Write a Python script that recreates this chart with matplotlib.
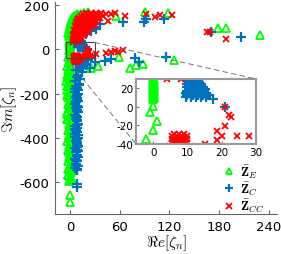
import numpy as np
import matplotlib.pyplot as plt
from matplotlib.patches import Rectangle, ConnectionPatch

plt.rcParams.update({'font.size': 9.5,
                     'font.family': 'DejaVu Sans',
                     'mathtext.fontset': 'cm'})
plt.rc('axes', unicode_minus=False)

# Z_E  (green triangles)
ze_x = [0, 0,
        -1, 2, 0, -2, 1, 3, -1, 0, 2, -2,
        1, -1, 3, 0, -2, 2, -1, 1, -3, 0,
        2, -1, 1, -2, 0, 3, -1, 2, -2, 0,
        1, -3, 2, -1, 0, -2, 1, 3, -1, -3,
        0, -4, 2, -3, -1, -5, 1, -2, -4, 0,
        -2, 1, -3, 0, -1, 2, -2, 0, 1, -1,
        1, -2, 0, 2, -1, 1, -3, 0, 2, -1,
        -2, 1, -1, 2, 0, -3, 1, -2, 0, 2,
        0, 0, 0.3, 0, 0.3, 0, 0.3, 0, 0.3, 0, 0.3, 0, 0.3, 0, 0.3, 0, 0.3, 0, 0.3, 0, 0.3, 0, 0.3, 0,
        -1, 0, 1, -1, 0, -2, 1, -1, 0, 2, 0, 3, 1, 5, 3, 7, 5, 10, 8, 13, 17, 22,
        56, 91, 118, 179, 188, 230, 88, 126, 25, 34, 59, 72, 80]
ze_y = [-688, -655,
        -595, -585, -575, -565, -555, -545, -535, -525, -515, -505,
        -495, -485, -475, -465, -455, -445, -435, -425, -415, -405,
        -395, -385, -375, -365, -355, -345, -335, -325, -315, -305,
        -295, -285, -275, -265, -255, -245, -235, -225, -215, -205,
        -195, -185, -175, -165, -155, -145, -135, -125, -115, -105,
        -95, -85, -75, -65, -55, -45, -35, -25, -15, -5,
        -590, -540, -490, -440, -390, -340, -290, -240, -190, -140,
        -565, -515, -465, -415, -365, -315, -265, -215, -165, -115,
        0.7, 9, 10, 11, 12, 13, 14, 15, 16, 17, 18, 19, 20, 21, 22, 23, 24, 25, 26, 27, 28, 29, 30, 31,
        35, 42, 50, 58, 66, 74, 82, 90, 98, 106, 114, 120, 126, 132, 138, 144, 148, 152, 156, 160, 163, 165,
        150, 166, 162, 94, 94, 63, -68, -50, -86, -76, -36, -86, -72]

# Z_C  (blue plus)
zc_x = [8, 8,
        8, 6, 10, 7, 9, 6, 10, 8, 7, 9,
        6, 10, 8, 7, 9, 6, 10, 8, 7, 9,
        6, 10, 8, 7, 9, 6, 10, 8, 7, 9,
        6, 10, 8, 7, 9, 6, 10, 8, 7, 11,
        6, 12, 8, 10, 14, 7, 12, 16, 9, 13,
        9, 7, 10, 8, 6, 9, 7, 10, 8, 6,
        7, 9, 8, 10, 6, 8, 9, 7, 10, 11,
        18, 20, 24, 16, 22,
        9.5, 11, 12.5, 14, 15.5,
        10, 11.5, 13, 14.5, 16,
        9.5, 11, 12.5, 14, 15.5,
        10, 11.5, 13, 14.5,
        10.5, 12, 13.5, 15,
        10, 11.5, 13, 14.5,
        10.5, 12, 13.5,
        10, 11.5, 13, 14,
        10.5, 12, 13.5,
        10, 11.5, 13,
        10.5, 12, 13.5,
        11, 12.5, 11, 13,
        17.4, 21,
        16, 20, 26, 32, 24, 30, 36, 64, 90, 92, 114, 170, 206,
        30, 42, 50, 78, 84, 116]
zc_y = [-621, -607,
        -545, -535, -525, -515, -505, -495, -485, -475, -465, -455,
        -445, -435, -425, -415, -405, -395, -385, -375, -365, -355,
        -345, -335, -325, -315, -305, -295, -285, -275, -265, -255,
        -245, -235, -225, -215, -205, -195, -185, -175, -165, -155,
        -145, -135, -125, -115, -105, -95, -85, -75, -65, -55,
        -540, -500, -460, -420, -380, -340, -300, -260, -220, -180,
        -520, -480, -440, -400, -360, -320, -280, -240, -200, -160,
        -45, -70, -85, -60, -50,
        11, 11, 11, 11, 11,
        13, 13, 13, 13, 13,
        15, 15, 15, 15, 15,
        17, 17, 17, 17,
        19, 19, 19, 19,
        21, 21, 21, 21,
        23, 23, 23,
        25, 25, 25, 25,
        27, 27, 27,
        29, 29, 29,
        31, 31, 31,
        34, 34, 38, 38,
        8, 0,
        58, 70, 81, 90, 95, 100, 112, 121, 121, 135, 135, 76, 54,
        -58, -54, -45, -40, -58, -36]

# Z_CC  (red x)
zcc_x = [4, 8,
         5, 9, 12,
         4, 8, 12,
         5, 9, 13,
         4, 8, 12, 16,
         5, 9, 13, 17,
         6, 10, 14, 18, 22,
         5, 9, 13, 17, 21,
         7, 11, 15, 19, 24,
         6, 10, 14, 18, 22, 27,
         8, 12, 16, 20, 25, 30,
         7, 11, 15, 19, 24, 29,
         9, 13, 17, 21, 26, 32, 46,
         10, 14, 18, 23, 28, 34,
         11, 15, 20, 25, 30, 36,
         13, 17, 22, 27, 33, 40, 66,
         16, 21, 26, 32, 38, 44, 50,
         20, 25, 31, 37, 55,
         6, 7.5, 9,
         5.5, 7, 8.5, 10,
         6, 7.5, 9,
         5.5, 7, 8.5, 10,
         6, 7.5, 9,
         5.5, 7, 8.5, 10,
         5, 7, 9, 11,
         6, 8, 10, 12,
         5, 7, 9, 11,
         6, 8, 10,
         7, 9,
         21, 22.6, 21, 18.6, 20, 24.4, 18.5, 15, 22, 28, 32, 44, 50, 54, 58, 64,
         92, 103, 109, 123, 166, 169, 188]
zcc_y = [30, 30,
         38, 38, 38,
         46, 46, 46,
         54, 54, 54,
         62, 62, 62, 62,
         70, 70, 70, 70,
         78, 78, 78, 78, 78,
         86, 86, 86, 86, 86,
         94, 94, 94, 94, 94,
         102, 102, 102, 102, 102, 102,
         110, 110, 110, 110, 110, 110,
         118, 118, 118, 118, 118, 118,
         126, 126, 126, 126, 126, 126, 126,
         134, 134, 134, 134, 134, 134,
         142, 142, 142, 142, 142, 142,
         150, 150, 150, 150, 150, 150, 150,
         157, 157, 157, 157, 157, 157, 157,
         163, 163, 163, 163, 163,
         -29, -29, -29,
         -31, -31, -31, -31,
         -33, -33, -33,
         -35, -35, -35, -35,
         -37, -37, -37,
         -39, -39, -39, -39,
         -42, -42, -42, -42,
         -46, -46, -46, -46,
         -50, -50, -50, -50,
         -54, -54, -54,
         -58, -58,
         0, -11, -21, -26, -31, -31, -36, -40, -9, -31, -22, -18, -13, -9, -13, -4,
         157, 144, 153, 153, 76, 76, 45]

green = '#00FF00'
blue = '#0072BD'
red = '#FF0000'

fig = plt.figure(figsize=(2.81, 2.55), dpi=100)
ax = fig.add_axes([55/281, 40/255, 222/281, 212/255])


def draw(a):
    a.plot(ze_x, ze_y, ls='none', marker='^', mfc='none', mec=green, ms=5.5, mew=1.3,
           label=r'$\bar{\mathbf{Z}}_E$')
    a.plot(zc_x, zc_y, ls='none', marker='+', color=blue, ms=7, mew=1.6,
           label=r'$\bar{\mathbf{Z}}_C$')
    a.plot(zcc_x, zcc_y, ls='none', marker='x', color=red, ms=5, mew=1.3,
           label=r'$\bar{\mathbf{Z}}_{CC}$')


draw(ax)
ax.set_xlim(-18, 250)
ax.set_ylim(-742, 212)
ax.set_xticks([0, 60, 120, 180, 240])
ax.set_yticks([-600, -400, -200, 0, 200])
ax.spines['top'].set_visible(False)
ax.spines['right'].set_visible(False)
for s in ['left', 'bottom']:
    ax.spines[s].set_color('#666666')
ax.tick_params(direction='in', length=3, color='#666666', pad=4)
ax.set_xlabel(r'$\Re e[\zeta_n]$', fontsize=11, labelpad=0)
ax.set_ylabel(r'$\Im m[\zeta_n]$', fontsize=11, labelpad=0)
ax.legend(loc='upper left', bbox_to_anchor=(0.771, 0.385), bbox_transform=fig.transFigure,
          frameon=False, handlelength=0.8, handletextpad=0.5, labelspacing=0.0,
          borderpad=0, fontsize=9.5, markerscale=0.8)

# zoom box
ax.add_patch(Rectangle((-5, -40), 35, 70, fill=False, ec='#444444', lw=0.8, zorder=5))

axins = fig.add_axes([136/281, 110/255, 120/281, 65/255])
draw(axins)
axins.set_xlim(-5, 30)
axins.set_ylim(-40, 30)
axins.set_xticks([0, 10, 20, 30])
axins.set_yticks([-40, -20, 0, 20])
for s in axins.spines.values():
    s.set_color('#999999')
    s.set_linewidth(1.5)
axins.tick_params(direction='in', length=2, color='#777777', labelsize=7.5, pad=2)

for xy in [(30, 30), (-5, -40)]:
    con = ConnectionPatch(xyA=xy, coordsA=ax.transData, xyB=xy, coordsB=axins.transData,
                          color='#777777', ls=(0, (5, 4)), lw=0.7)
    fig.add_artist(con)

plt.savefig('out.png', dpi=100)
